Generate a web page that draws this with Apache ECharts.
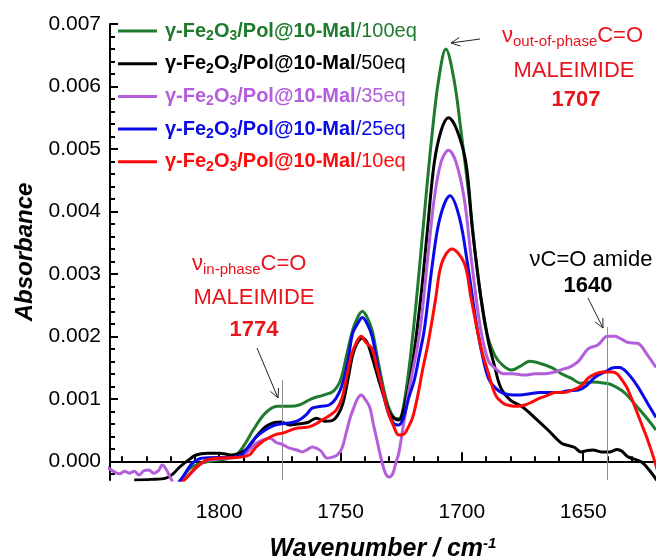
<!DOCTYPE html>
<html>
<head>
<meta charset="utf-8">
<script src="https://cdn.jsdelivr.net/npm/echarts@6/dist/echarts.min.js"></script>
<style>
html, body { margin: 0; padding: 0; background: #fff; }
#main { width: 656px; height: 559px; }
</style>
</head>
<body>
<div id="main"></div>
<script>
// ---- data: [wavenumber, absorbance] ----
let seriesNames = ["100eq", "50eq", "35eq", "25eq", "10eq"];
let seriesColors = ["#1e7a2c", "#000000", "#b45edb", "#0a0ae8", "#ff0a0a"];

let eq100 = [
    [1817, -0.0004], [1813, -0.00015], [1809, -0.00005], [1804, 0.0], [1798, 0.00003],
    [1793, 0.0001], [1789, 0.0003], [1786, 0.0005], [1781, 0.00077], [1776, 0.00088],
    [1771, 0.00088], [1767, 0.0009], [1762, 0.001], [1757, 0.00106], [1753, 0.00112],
    [1750, 0.0013], [1747.5, 0.0017], [1745, 0.0021], [1743, 0.0023], [1741, 0.0024],
    [1739, 0.0023], [1737, 0.0021], [1735, 0.0017], [1733, 0.0013], [1730.5, 0.0009],
    [1728, 0.0007], [1726, 0.00068], [1723.4, 0.00103], [1720, 0.0021], [1717.3, 0.00317],
    [1714.8, 0.00423], [1712.1, 0.0053], [1709.6, 0.0061], [1706.6, 0.0066], [1703.2, 0.0061],
    [1700.4, 0.0053], [1697, 0.00423], [1694, 0.00317], [1690, 0.0021], [1686.5, 0.0017],
    [1683, 0.00153], [1679.5, 0.00146], [1676, 0.00152], [1672, 0.0016], [1668, 0.00157],
    [1663, 0.0015], [1659, 0.0014], [1655, 0.00133], [1651, 0.00125], [1646, 0.00127],
    [1641, 0.00125], [1638, 0.00122], [1633, 0.0011], [1628, 0.00088], [1624, 0.0007],
    [1620, 0.0005]
];

let eq50 = [
    [1835, -0.0003], [1828, -0.00029], [1822, -0.00027], [1819, -0.0002], [1816.5, -0.0001],
    [1813, 0.00001], [1809.5, 0.0001], [1805, 0.00013], [1800, 0.00013], [1795, 0.0001],
    [1791, 0.00014], [1788, 0.00022], [1785, 0.00038], [1781, 0.00055], [1777, 0.00062],
    [1774.5, 0.00063], [1771, 0.00058], [1767, 0.0006], [1763.5, 0.00062], [1760, 0.00069],
    [1756.5, 0.00064], [1753.5, 0.00065], [1751, 0.00075], [1749, 0.00093], [1747, 0.0013],
    [1745, 0.0017], [1743, 0.0019], [1741, 0.00197], [1739, 0.0019], [1737, 0.00167],
    [1735, 0.0014], [1733, 0.00114], [1730, 0.0008], [1728, 0.00069], [1726, 0.00066],
    [1723, 0.001], [1720.3, 0.00157], [1716.9, 0.00263], [1714.2, 0.0037], [1711.4, 0.00477],
    [1708.5, 0.0053], [1705.5, 0.0055], [1702, 0.0053], [1698.3, 0.00477], [1695.6, 0.0037],
    [1692.2, 0.00263], [1689, 0.0019], [1686.5, 0.00152], [1684, 0.00118], [1680, 0.00098],
    [1675, 0.00087], [1670, 0.0007], [1664.5, 0.0005], [1659, 0.00029], [1656, 0.00025],
    [1653.5, 0.00022], [1651, 0.00015], [1648.5, 0.00017], [1646, 0.00018], [1642.5, 0.00015],
    [1639, 0.00015], [1636, 0.00019], [1634, 0.00016], [1631.5, 0.00007], [1626, -0.00001],
    [1622, -0.00018], [1618, -0.0004]
];

let eq35 = [
    [1846, -0.0001], [1844, -0.00015], [1841, -0.0002], [1839, -0.00016], [1837, -0.00019],
    [1835, -0.00016], [1833, -0.00022], [1831, -0.00015], [1829, -0.00014], [1827, -0.00019],
    [1825, -0.00015], [1823.5, -0.00006], [1822, -0.00012], [1820, -0.00027], [1818, -0.0004],
    [1812, -0.0002], [1806, 0.0], [1800, 0.00004], [1794, 0.00006], [1790, 0.0001],
    [1787.5, 0.00018], [1785, 0.00028], [1782, 0.00034], [1779, 0.00037], [1776.5, 0.0003],
    [1774, 0.00027], [1771, 0.00021], [1768, 0.00018], [1765.8, 0.00015], [1763.5, 0.00019],
    [1761.7, 0.00023], [1759.5, 0.0002], [1758, 0.00016], [1755.5, 0.00005], [1753, 0.00007],
    [1751.4, 0.0001], [1749.5, 0.0002], [1747.7, 0.00045], [1746, 0.0007], [1744.4, 0.00087],
    [1743, 0.001], [1741.5, 0.00106], [1740, 0.001], [1738, 0.00087], [1736.5, 0.0006],
    [1735, 0.00034], [1733, 0.0], [1731.4, -0.0002], [1730, -0.00025], [1728.5, -0.0002],
    [1727, 0.0], [1726, 0.00013], [1724, 0.0006], [1722, 0.0011], [1720, 0.0015],
    [1718.5, 0.0018], [1716.9, 0.0022], [1714.2, 0.0032], [1711.4, 0.0042], [1708.5, 0.0048],
    [1705.5, 0.00498], [1702.5, 0.0048], [1699, 0.0042], [1696, 0.0032], [1692.2, 0.0021],
    [1689, 0.0016], [1686, 0.00148], [1683, 0.0014], [1679, 0.0014], [1674, 0.00138],
    [1670, 0.0014], [1667, 0.0014], [1661.6, 0.00143], [1658, 0.00148], [1656, 0.0015],
    [1652, 0.0016], [1648, 0.0018], [1644, 0.00186], [1640, 0.002], [1637, 0.002],
    [1634, 0.00195], [1631.5, 0.0019], [1627.6, 0.00189], [1623.5, 0.0017], [1620, 0.0015]
];

let eq25 = [
    [1818, -0.0004], [1815, -0.00025], [1811, -0.00003], [1807, 0.00005], [1801, 0.00006],
    [1795, 0.00006], [1791, 0.0001], [1789, 0.00018], [1785, 0.00038], [1781, 0.0005],
    [1777, 0.00058], [1774, 0.0006], [1770, 0.00062], [1767, 0.00066], [1764, 0.00075],
    [1761.7, 0.00085], [1758, 0.00088], [1754.7, 0.0009], [1752, 0.001], [1749.5, 0.0012],
    [1747, 0.0016], [1745, 0.00205], [1743, 0.0022], [1741, 0.0023], [1739, 0.0022],
    [1737, 0.002], [1735, 0.0016], [1733, 0.0012], [1730.5, 0.0008], [1728, 0.0006],
    [1726, 0.00058], [1724, 0.0007], [1722, 0.001], [1719.6, 0.0013], [1717.5, 0.0017],
    [1715.5, 0.0021], [1712.1, 0.00317], [1709, 0.0039], [1704.9, 0.00425], [1701, 0.0039],
    [1697.7, 0.00317], [1693.6, 0.0021], [1691, 0.0016], [1688.7, 0.0013], [1684.6, 0.00112],
    [1681, 0.00107], [1676, 0.00106], [1672, 0.00108], [1668, 0.0011], [1664, 0.0011],
    [1660, 0.0011], [1656, 0.00113], [1652, 0.00114], [1649, 0.0012], [1645, 0.00135],
    [1641, 0.00143], [1637, 0.0015], [1635, 0.0015], [1631.5, 0.0014], [1627.6, 0.0012],
    [1623.5, 0.00093], [1620, 0.0007]
];

let eq10 = [
    [1817, -0.0004], [1813.6, -0.00027], [1809.5, -0.0001], [1805, 0.00002], [1800, 0.00005],
    [1793, 0.00006], [1787.6, 0.0001], [1785, 0.00022], [1782, 0.00032], [1779.4, 0.00038],
    [1776.5, 0.00043], [1774, 0.00045], [1771, 0.00049], [1768, 0.00053], [1765, 0.00054],
    [1763, 0.00055], [1760, 0.0006], [1757.6, 0.00066], [1755, 0.00072], [1751.8, 0.00082],
    [1749.5, 0.001], [1747.7, 0.0013], [1745.5, 0.0017], [1743.5, 0.0019], [1741.5, 0.002],
    [1739.5, 0.0019], [1737, 0.0018], [1735, 0.0015], [1733, 0.0012], [1730.5, 0.0008],
    [1728, 0.00055], [1726, 0.00042], [1724, 0.00043], [1722, 0.00055], [1720.3, 0.0007],
    [1718.3, 0.00103], [1716, 0.0015], [1714.2, 0.00183], [1712.5, 0.0022], [1710.7, 0.00263],
    [1708.3, 0.00317], [1704.1, 0.0034], [1699, 0.00317], [1696.3, 0.00263], [1692.2, 0.00183],
    [1689, 0.0014], [1686, 0.00105], [1683, 0.00093], [1680, 0.00089], [1677, 0.00088],
    [1674, 0.0009], [1671, 0.00095], [1668.6, 0.001], [1665, 0.00105], [1661.6, 0.0011],
    [1658, 0.0011], [1654.5, 0.00114], [1651, 0.0012], [1648, 0.00133], [1645, 0.0014],
    [1642, 0.00143], [1638, 0.00143], [1636, 0.0014], [1634, 0.0013], [1632, 0.00118],
    [1630, 0.001], [1628, 0.0008], [1626, 0.0006], [1623.5, 0.00035], [1621.6, 0.00013],
    [1619, -0.0002]
];

let allData = [eq100, eq50, eq35, eq25, eq10];

// ticks
let xMajor = [1650, 1700, 1750, 1800];
let xMinor = [1630, 1640, 1660, 1670, 1680, 1690, 1710, 1720, 1730, 1740, 1760, 1770, 1780, 1790, 1810, 1820, 1830, 1840];
let yMajor = [0, 0.001, 0.002, 0.003, 0.004, 0.005, 0.006, 0.007];
let yMinor = [];
for (let k = -1; k <= 34; k++) {
    if (k % 5 !== 0) yMinor.push(+(k * 0.0002).toFixed(4));
}

// gray marker lines: [wavenumber, top of line]
let markerLines = [[1774, 0.0013], [1707, 0.0071], [1640, 0.00215]];

let xMin = 1620, xMax = 1845, yMin = -0.0003, yMax = 0.007;

let dom = document.getElementById("main");
let myChart = echarts.init(dom, null, { renderer: "canvas" });

function legendLabel(name) {
    return "{f|γ-Fe}{s|2}{b|O}{s|3}{b|/Pol@10-Mal}{n|/" + name + "}";
}

function legendItem(name, i) {
    let c = seriesColors[i];
    let bold = { color: c, fontWeight: "bold", fontSize: 20, lineHeight: 24, fontFamily: "Liberation Sans" };
    return {
        name: name,
        textStyle: {
            color: c,
            rich: {
                f: Object.assign({ padding: [0, 0, 0, 3] }, bold),
                b: bold,
                s: { color: c, fontWeight: "bold", fontSize: 14, lineHeight: 12, verticalAlign: "bottom", fontFamily: "Liberation Sans" },
                n: { color: c, fontSize: 20, lineHeight: 24, fontFamily: "Liberation Sans" },
            },
        },
    };
}

let axisFont = { fontFamily: "Liberation Sans", fontSize: 21, color: "#000" };

let series = allData.map(function (d, i) {
    return {
        name: seriesNames[i],
        type: "line",
        data: d,
        smooth: 0.35,
        symbol: "none",
        clip: true,
        z: 3 + i,
        lineStyle: { color: seriesColors[i], width: 3 },
        itemStyle: { color: seriesColors[i] },
    };
});

series.push({
    type: "line",
    data: [],
    silent: true,
    z: 1,
    markLine: {
        silent: true,
        symbol: "none",
        label: { show: false },
        lineStyle: { color: "#8c8c8c", width: 1, type: "solid" },
        data: markerLines.map(function (m) {
            return [{ coord: [m[0], yMin] }, { coord: [m[0], m[1]] }];
        }),
    },
});

function arrow(x1, y1, x2, y2) {
    let a = Math.atan2(y2 - y1, x2 - x1);
    let h = 10, w = 0.45;
    return {
        type: "group",
        children: [
            { type: "line", shape: { x1: x1, y1: y1, x2: x2, y2: y2 }, style: { stroke: "#222", lineWidth: 1 } },
            {
                type: "polyline",
                shape: {
                    points: [
                        [x2 - h * Math.cos(a - w), y2 - h * Math.sin(a - w)],
                        [x2, y2],
                        [x2 - h * Math.cos(a + w), y2 - h * Math.sin(a + w)],
                    ],
                },
                style: { stroke: "#222", lineWidth: 1, fill: null },
            },
        ],
    };
}

let red = "#e8141c";
let annoRich = {
    nu: { fontSize: 22, fontFamily: "Liberation Sans", fill: red },
    sub: { fontSize: 15, fontFamily: "Liberation Sans", fill: red, padding: [12, 0, 0, 0] },
    t: { fontSize: 22, fontFamily: "Liberation Sans", fill: red },
};

let option = {
    animation: false,
    grid: { left: 110, right: 0, top: 24, bottom: 79, outerBoundsMode: "none", containLabel: false },
    legend: {
        orient: "vertical",
        left: 118,
        top: 21,
        padding: 0,
        icon: "rect",
        itemWidth: 39,
        itemHeight: 3,
        itemGap: 10.7,
        selectedMode: false,
        formatter: legendLabel,
        data: seriesNames.map(legendItem),
    },
    xAxis: [
        {
            type: "value",
            min: xMin,
            max: xMax,
            inverse: true,
            name: "Wavenumber / cm{sup|-1}",
            nameLocation: "middle",
            nameGap: 56,
            nameTextStyle: {
                fontFamily: "Liberation Sans",
                fontSize: 25,
                fontWeight: "bold",
                fontStyle: "italic",
                color: "#000",
                rich: {
                    sup: { fontFamily: "Liberation Sans", fontSize: 15, fontWeight: "bold", fontStyle: "italic", color: "#000", padding: [0, 0, 12, 0] },
                },
            },
            splitLine: { show: false },
            axisLine: { lineStyle: { color: "#000", width: 2 } },
            axisTick: { inside: true, length: 9, customValues: xMajor, lineStyle: { color: "#000", width: 2 } },
            axisLabel: Object.assign({ customValues: xMajor, margin: 22, formatter: function (v) { return String(v); } }, axisFont),
        },
        {
            type: "value",
            min: xMin,
            max: xMax,
            inverse: true,
            position: "bottom",
            splitLine: { show: false },
            axisLine: { show: false },
            axisTick: { inside: true, length: 5, customValues: xMinor, lineStyle: { color: "#000", width: 2 } },
            axisLabel: { show: false },
        },
    ],
    yAxis: [
        {
            type: "value",
            min: yMin,
            max: yMax,
            name: "Absorbance",
            nameLocation: "middle",
            nameGap: 73,
            nameTextStyle: { fontFamily: "Liberation Sans", fontSize: 24, fontWeight: "bold", fontStyle: "italic", color: "#000" },
            splitLine: { show: false },
            axisLine: { lineStyle: { color: "#000", width: 2 } },
            axisTick: { inside: true, length: 8, customValues: yMajor, lineStyle: { color: "#000", width: 2 } },
            axisLabel: Object.assign({ customValues: yMajor, margin: 9, formatter: function (v) { return v.toFixed(3); } }, axisFont),
        },
        {
            type: "value",
            min: yMin,
            max: yMax,
            position: "left",
            splitLine: { show: false },
            axisLine: { show: false },
            axisTick: { inside: true, length: 5, customValues: yMinor, lineStyle: { color: "#000", width: 2 } },
            axisLabel: { show: false },
        },
    ],
    graphic: [
        {
            type: "text", left: 502, top: 25,
            style: { text: "{nu|ν}{sub|out-of-phase}{t|C=O}", rich: annoRich },
        },
        {
            type: "text", x: 574, y: 71,
            style: { text: "MALEIMIDE", fill: red, font: "22px 'Liberation Sans'", align: "center", verticalAlign: "middle" },
        },
        {
            type: "text", x: 576, y: 100,
            style: { text: "1707", fill: red, font: "bold 22px 'Liberation Sans'", align: "center", verticalAlign: "middle" },
        },
        {
            type: "text", left: 192, top: 253,
            style: { text: "{nu|ν}{sub|in-phase}{t|C=O}", rich: annoRich },
        },
        {
            type: "text", x: 254, y: 298,
            style: { text: "MALEIMIDE", fill: red, font: "22px 'Liberation Sans'", align: "center", verticalAlign: "middle" },
        },
        {
            type: "text", x: 254, y: 330,
            style: { text: "1774", fill: red, font: "bold 22px 'Liberation Sans'", align: "center", verticalAlign: "middle" },
        },
        {
            type: "text", x: 591, y: 260,
            style: { text: "νC=O amide", fill: "#000", font: "22px 'Liberation Sans'", align: "center", verticalAlign: "middle" },
        },
        {
            type: "text", x: 588, y: 286,
            style: { text: "1640", fill: "#000", font: "bold 22px 'Liberation Sans'", align: "center", verticalAlign: "middle" },
        },
        arrow(480, 39, 451, 43),
        arrow(257, 348, 278, 398),
        arrow(588, 298, 603, 328),
    ],
    series: series,
};

if (option && typeof option === "object") {
    myChart.setOption(option);
}

window.addEventListener("resize", myChart.resize);
</script>
</body>
</html>
